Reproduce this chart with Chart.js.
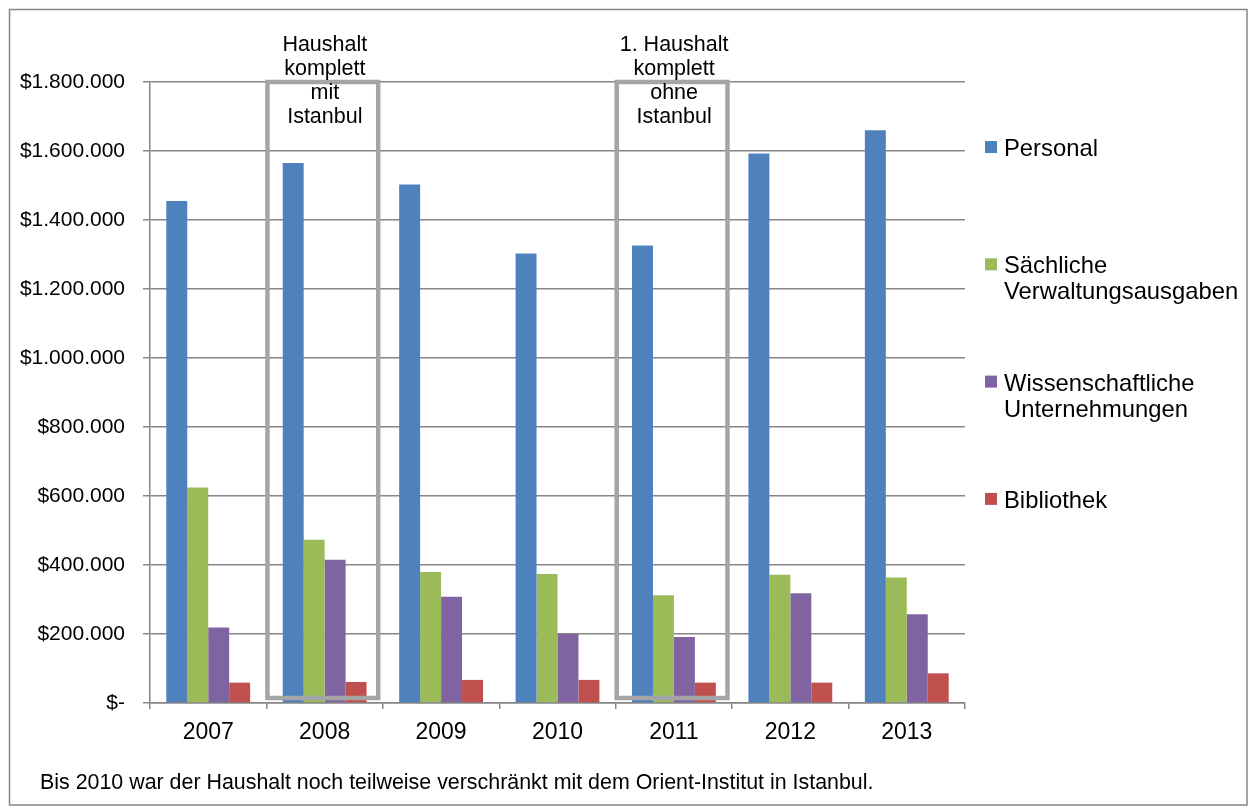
<!DOCTYPE html>
<html>
<head>
<meta charset="utf-8">
<script src="https://cdn.jsdelivr.net/npm/chart.js@4"></script>
<style>
  body { margin: 0; background: #fff; }
  canvas { display: block; }
</style>
</head>
<body>
<canvas id="grafico-haushalt" width="1250" height="808"></canvas>
<script>
// Daten
const jahre = ['2007', '2008', '2009', '2010', '2011', '2012', '2013'];
const personal = [1455000, 1565000, 1503000, 1303000, 1326000, 1593000, 1660000];
const saechliche = [625000, 473000, 380000, 374000, 312000, 372000, 364000];
const wissenschaftliche = [219000, 415000, 308000, 200000, 191000, 318000, 257000];
const bibliothek = [59000, 61000, 67000, 67000, 59000, 59000, 86000];
const serien = ['Personal', 'Sächliche Verwaltungsausgaben', 'Wissenschaftliche Unternehmungen', 'Bibliothek'];
const farben = ['#4F81BD', '#9BBB59', '#8064A2', '#C0504D'];
const markierungen = [
  { jahr: '2008', zeilen: ['Haushalt', 'komplett', 'mit', 'Istanbul'] },
  { jahr: '2011', zeilen: ['1. Haushalt', 'komplett', 'ohne', 'Istanbul'] }
];
const fussnote = 'Bis 2010 war der Haushalt noch teilweise verschränkt mit dem Orient-Institut in Istanbul.';

const schrift = "'Liberation Sans', Arial, sans-serif";
const grau = '#868686';

function formatDollar(v) {
  if (v === 0) return '$-';
  return '$' + String(v).replace(/\B(?=(\d{3})+(?!\d))/g, '.');
}

// Rahmen, Markierungen, Legende und Fussnote
const extras = {
  id: 'extras',
  afterDatasetsDraw(chart) {
    const ctx = chart.ctx;
    const x = chart.scales.x;
    const y = chart.scales.y;
    const breite = x.getPixelForValue(1) - x.getPixelForValue(0);
    const oben = y.getPixelForValue(1800000);
    const unten = y.getPixelForValue(0) - 5;
    ctx.save();
    ctx.strokeStyle = '#A5A5A5';
    ctx.lineWidth = 4.5;
    markierungen.forEach(m => {
      const mitte = x.getPixelForValue(jahre.indexOf(m.jahr));
      const links = mitte - breite * 0.5 + 1;
      const rechts = mitte + breite * 0.46;
      ctx.strokeRect(links, oben, rechts - links, unten - oben);
      ctx.fillStyle = '#000';
      ctx.font = '21.5px ' + schrift;
      ctx.textAlign = 'center';
      ctx.textBaseline = 'alphabetic';
      m.zeilen.forEach((z, i) => {
        ctx.fillText(z, (links + rechts) / 2 + 2, oben - 31 + i * 24);
      });
    });
    ctx.restore();
  },
  afterDraw(chart) {
    const ctx = chart.ctx;
    ctx.save();
    // äusserer Rahmen
    ctx.strokeStyle = grau;
    ctx.lineWidth = 1.5;
    ctx.strokeRect(9.5, 9.5, 1237.5, 795.5);

    // Legende
    ctx.font = '23.8px ' + schrift;
    ctx.textAlign = 'left';
    ctx.textBaseline = 'alphabetic';
    chart.data.datasets.forEach((ds, i) => {
      const basis = 156 + i * 117.3;
      ctx.fillStyle = ds.backgroundColor;
      ctx.fillRect(985, basis - 15, 12, 12);
      ctx.fillStyle = '#000';
      ds.label.split(' ').forEach((z, j) => {
        ctx.fillText(z, 1004, basis + j * 26);
      });
    });

    // Fussnote
    ctx.font = '21.4px ' + schrift;
    ctx.fillText(fussnote, 40, 789);
    ctx.restore();
  }
};

new Chart(document.getElementById('grafico-haushalt'), {
  type: 'bar',
  data: {
    labels: jahre,
    datasets: [personal, saechliche, wissenschaftliche, bibliothek].map((d, i) => ({
      label: serien[i],
      data: d,
      backgroundColor: farben[i],
      borderWidth: 0,
      categoryPercentage: 0.72,
      barPercentage: 1
    }))
  },
  options: {
    responsive: false,
    animation: false,
    devicePixelRatio: 1,
    layout: { padding: { top: 82, right: 285, left: 0, bottom: 0 } },
    plugins: {
      legend: { display: false },
      tooltip: { enabled: false }
    },
    scales: {
      x: {
        offset: true,
        afterFit(scale) { scale.height = 105; },
        grid: {
          offset: true,
          drawOnChartArea: false,
          drawTicks: true,
          tickLength: 6,
          color: grau,
          lineWidth: 1.5
        },
        border: { display: true, color: grau, width: 1.5 },
        ticks: {
          color: '#000',
          font: { family: schrift, size: 23 },
          padding: 10,
          maxRotation: 0
        }
      },
      y: {
        min: 0,
        max: 1800000,
        afterFit(scale) { scale.width = 150; },
        grid: {
          color: grau,
          lineWidth: 1.5,
          drawTicks: true,
          tickLength: 7
        },
        border: { display: true, color: grau, width: 1.5 },
        ticks: {
          stepSize: 200000,
          color: '#000',
          font: { family: schrift, size: 21 },
          padding: 18,
          callback: v => formatDollar(v)
        }
      }
    }
  },
  plugins: [extras]
});
</script>
</body>
</html>
